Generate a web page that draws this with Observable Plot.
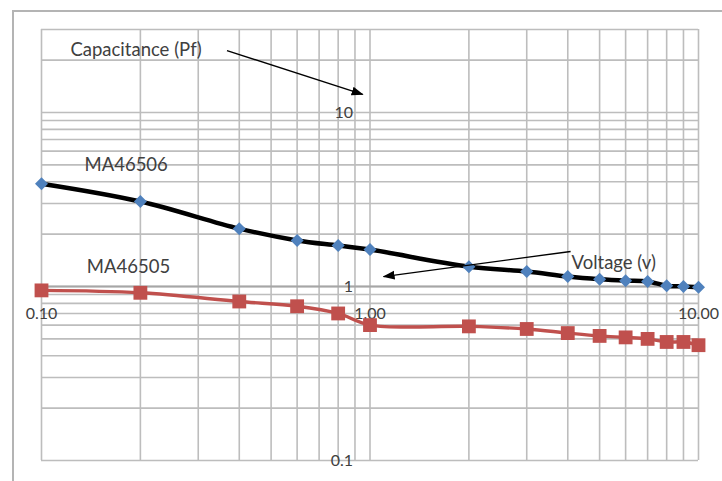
<!DOCTYPE html>
<html>
<head>
<meta charset="utf-8">
<script src="https://cdn.jsdelivr.net/npm/d3@7"></script>
<script src="https://cdn.jsdelivr.net/npm/@observablehq/plot@0.6"></script>
<style>
  html, body { margin: 0; padding: 0; background: #fff; }
  #wrap { position: relative; width: 722px; height: 481px; overflow: hidden; }
  #frame { position: absolute; left: 12px; top: 10px; width: 740px; height: 500px;
           border-left: 2px solid #b4b4b4; border-top: 2px solid #b4b4b4; box-sizing: border-box; }
  #chart { position: absolute; left: 0; top: 0; }
</style>
</head>
<body>
<div id="wrap"><div id="frame"></div><div id="chart"></div></div>
<script>
// Voltage (V)
const voltage = [0.1, 0.2, 0.4, 0.6, 0.8, 1, 2, 3, 4, 5, 6, 7, 8, 9, 10];
// Capacitance (pF)
const ma46506 = [3.9, 3.08, 2.15, 1.84, 1.72, 1.63, 1.30, 1.22, 1.14, 1.10, 1.08, 1.07, 1.01, 1.0, 0.99];
const ma46505 = [0.95, 0.92, 0.82, 0.77, 0.70, 0.60, 0.59, 0.57, 0.54, 0.52, 0.51, 0.50, 0.48, 0.48, 0.46];

const xTickValues = [0.1, 1, 10];
const xTickLabels = ["0.10", "1.00", "10.00"];
const yTickValues = [0.1, 1, 10];
const yTickLabels = ["0.1", "1", "10"];

const xGrid = [0.1,0.2,0.3,0.4,0.5,0.6,0.7,0.8,0.9,1,2,3,4,5,6,7,8,9,10];
const yGrid = [0.1,0.2,0.3,0.4,0.5,0.6,0.7,0.8,0.9,1,2,3,4,5,6,7,8,9,10,20,30];

const seriesLabels = ["MA46506", "MA46505"];
const seriesLabelX = [0.181, 0.184];
const seriesLabelY = [5.0, 1.29];

const axisTitles = ["Capacitance (Pf)", "Voltage (v)"];
const axisTitleX = [0.194, 5.52];
const axisTitleY = [22.7, 1.36];
const arrowX1 = [0.367, 4.08];
const arrowY1 = [22.7, 1.59];
const arrowX2 = [0.95, 1.10];
const arrowY2 = [12.7, 1.14];

const rows506 = voltage.map((v, i) => ({v, c: ma46506[i]}));
const rows505 = voltage.map((v, i) => ({v, c: ma46505[i]}));
const xTicks = xTickValues.map((v, i) => ({v, label: xTickLabels[i]}));
const yTicks = yTickValues.map((v, i) => ({v, label: yTickLabels[i]}));
const sLabels = seriesLabels.map((t, i) => ({t, x: seriesLabelX[i], y: seriesLabelY[i]}));
const titles = axisTitles.map((t, i) => ({t, x: axisTitleX[i], y: axisTitleY[i],
  x1: arrowX1[i], y1: arrowY1[i], x2: arrowX2[i], y2: arrowY2[i]}));

const font = "Lato, 'Open Sans', sans-serif";

function filledArrow(color) {
  const m = d3.create("svg:marker")
    .attr("viewBox", "0 0 12 10")
    .attr("refX", 11).attr("refY", 5)
    .attr("markerWidth", 12).attr("markerHeight", 10)
    .attr("markerUnits", "userSpaceOnUse")
    .attr("orient", "auto");
  m.append("path").attr("d", "M0,0.5L12,5L0,9.5Z").attr("fill", color).attr("stroke", "none");
  return m.node();
}

function build(useMarker) {
  const arrowMark = useMarker
    ? Plot.link(titles, {x1: "x1", y1: "y1", x2: "x2", y2: "y2", stroke: "#000", strokeWidth: 1.4, markerEnd: filledArrow})
    : Plot.arrow(titles, {x1: "x1", y1: "y1", x2: "x2", y2: "y2", stroke: "#000", strokeWidth: 1.4, headLength: 12});
  return Plot.plot({
    width: 722,
    height: 481,
    marginLeft: 41,
    marginRight: 24,
    marginTop: 29,
    marginBottom: 21,
    style: {fontFamily: font, background: "transparent"},
    x: {type: "log", domain: [0.1, 10], axis: null},
    y: {type: "log", domain: [0.1, 30], axis: null},
    marks: [
      Plot.ruleX(xGrid, {stroke: "#bdbdbd", strokeWidth: 1.6}),
      Plot.ruleY(yGrid, {stroke: "#bdbdbd", strokeWidth: 1.6}),
      Plot.ruleY([1], {stroke: "#a6a6a6", strokeWidth: 1.8}),
      Plot.text(xTicks, {x: "v", y: () => 1, text: "label", dy: 27, fontSize: 16, fill: "#404040"}),
      Plot.text(yTicks, {x: () => 1, y: "v", text: "label", dx: -17, textAnchor: "end", fontSize: 16, fill: "#404040"}),
      Plot.line(rows506, {x: "v", y: "c", stroke: "#000", strokeWidth: 4.5, curve: "catmull-rom"}),
      Plot.dot(rows506, {x: "v", y: "c", symbol: "square", r: 5.2, rotate: 45, fill: "#4F81BD", stroke: "none"}),
      Plot.line(rows505, {x: "v", y: "c", stroke: "#C0504D", strokeWidth: 3.4, curve: "catmull-rom"}),
      Plot.dot(rows505, {x: "v", y: "c", symbol: "square", r: 7.8, fill: "#C0504D", stroke: "none"}),
      Plot.text(sLabels, {x: "x", y: "y", text: "t", fontSize: 18.5, fill: "#404040"}),
      Plot.text(titles, {x: "x", y: "y", text: "t", fontSize: 18.5, fill: "#404040"}),
      arrowMark
    ]
  });
}

let chart;
try { chart = build(true); } catch (e) { chart = build(false); }
document.getElementById("chart").appendChild(chart);
</script>
</body>
</html>
